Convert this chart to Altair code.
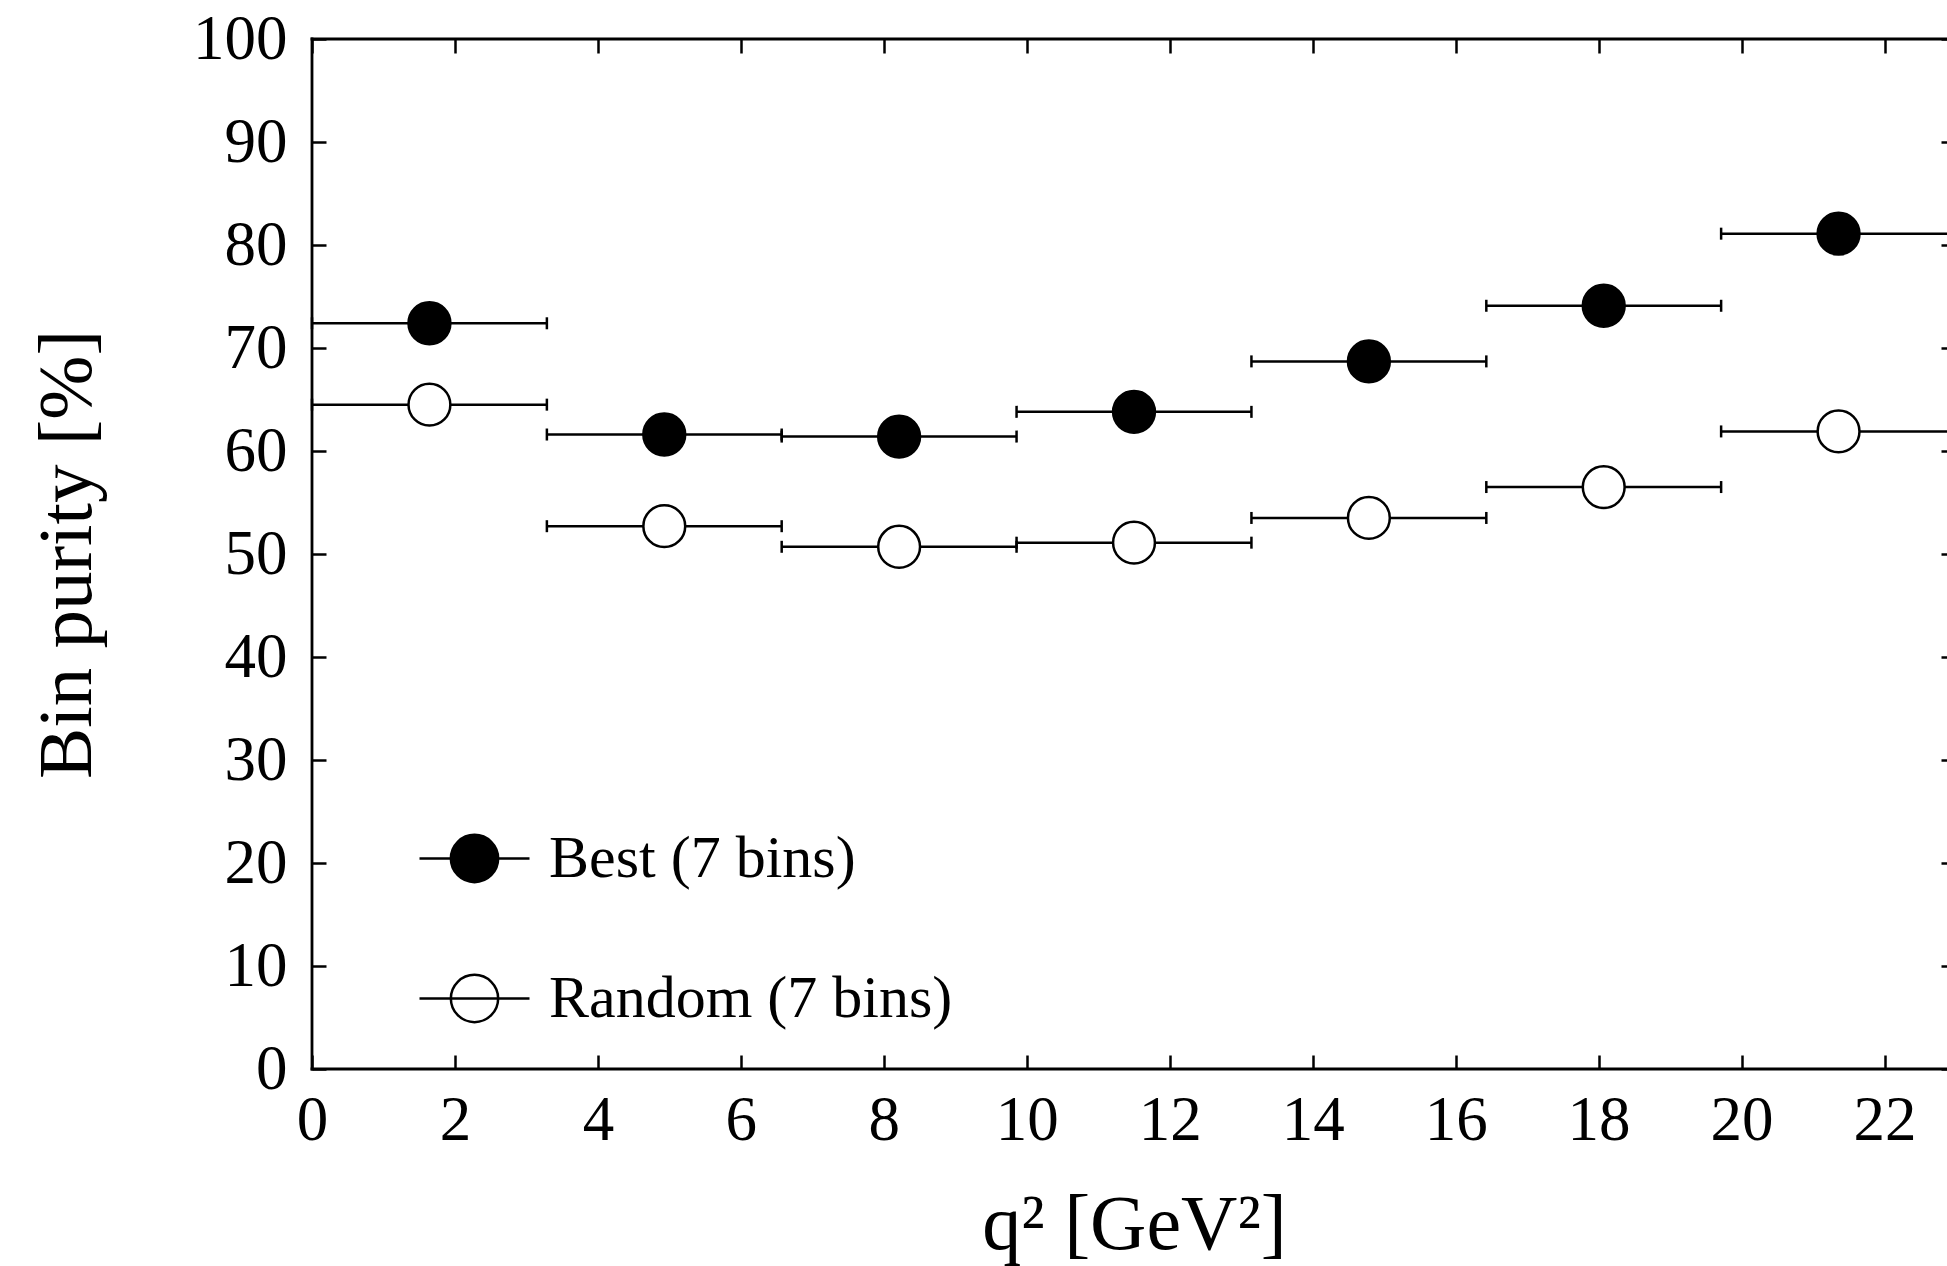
import altair as alt
import pandas as pd

# ---- data ----
bin_lo = [0.0, 3.286, 6.571, 9.857, 13.143, 16.429, 19.714]
bin_hi = [3.286, 6.571, 9.857, 13.143, 16.429, 19.714, 23.0]
best = [72.4, 61.6, 61.4, 63.8, 68.7, 74.1, 81.1]
random_bins = [64.5, 52.7, 50.7, 51.1, 53.5, 56.5, 61.9]
series_names = ["Best (7 bins)", "Random (7 bins)"]
series_fill = ["black", "white"]
x_ticks = [0, 2, 4, 6, 8, 10, 12, 14, 16, 18, 20, 22]
y_ticks = [0, 10, 20, 30, 40, 50, 60, 70, 80, 90, 100]
x_title = "q² [GeV²]"
y_title = "Bin purity [%]"

rows = []
for name, vals in zip(series_names, [best, random_bins]):
    for lo, hi, v in zip(bin_lo, bin_hi, vals):
        rows.append({"series": name, "lo": lo, "hi": hi, "mid": (lo + hi) / 2, "purity": v})
df = pd.DataFrame(rows)

FONT = "Liberation Serif"
W, H = 1635, 1030
XR = 1644  # pixel position of x = 23 (beyond the visible edge)

xs = alt.Scale(domain=[0, 23], range=[0, XR], nice=False, zero=False)
ys = alt.Scale(domain=[0, 100], nice=False, zero=False)

bottom_axis = alt.Axis(
    orient="bottom", values=x_ticks, title=x_title, domain=False, grid=False,
    tickSize=14, tickWidth=2.5, tickColor="black", offset=-14,
    labelFont=FONT, labelFontSize=63, labelColor="black", labelPadding=20,
    labelFlush=False, labelOverlap=False,
    titleFont=FONT, titleFontSize=78, titleFontWeight="normal", titleColor="black",
    titlePadding=34,
)
left_axis = alt.Axis(
    orient="left", values=y_ticks, title=y_title, domain=False, grid=False,
    tickSize=14, tickWidth=2.5, tickColor="black", offset=-14,
    labelFont=FONT, labelFontSize=63, labelColor="black", labelPadding=25,
    labelFlush=False, labelOverlap=False,
    titleFont=FONT, titleFontSize=77, titleFontWeight="normal", titleColor="black",
    titlePadding=86,
)
top_axis = alt.Axis(
    orient="top", values=x_ticks, title=None, domain=False, grid=False, labels=False,
    tickSize=14, tickWidth=2.5, tickColor="black", offset=-14,
)
right_axis = alt.Axis(
    orient="right", values=y_ticks, title=None, domain=False, grid=False, labels=False,
    tickSize=6, tickWidth=2.5, tickColor="black", offset=-6,
)

base = alt.Chart(df)

rules = base.mark_rule(color="black", strokeWidth=2.5).encode(
    x=alt.X("lo:Q", scale=xs, axis=top_axis),
    x2="hi:Q",
    y=alt.Y("purity:Q", scale=ys, axis=right_axis),
)

caps = base.transform_fold(["lo", "hi"], as_=["side", "xpos"]).mark_tick(
    orient="vertical", size=12, thickness=2.5, color="black", opacity=1
).encode(
    x=alt.X("xpos:Q", scale=xs, axis=None),
    y=alt.Y("purity:Q", scale=ys, axis=None),
)

legend_path = ("M-1,0L1,0M-0.43,0A0.43,0.43,0,1,0,0.43,0"
               "A0.43,0.43,0,1,0,-0.43,0Z")

points = base.mark_point(
    shape="circle", size=1750, stroke="black", strokeWidth=2.5, opacity=1, filled=False
).encode(
    x=alt.X("mid:Q", scale=xs, axis=bottom_axis),
    y=alt.Y("purity:Q", scale=ys, axis=left_axis),
    fill=alt.Fill(
        "series:N",
        scale=alt.Scale(domain=series_names, range=series_fill),
        legend=alt.Legend(
            title=None, orient="none", legendX=106, legendY=763, direction="vertical",
            symbolType=legend_path, symbolSize=12100, symbolStrokeColor="black",
            symbolStrokeWidth=2.5, symbolOpacity=1,
            labelFont=FONT, labelFontSize=60, labelColor="black", labelOffset=18,
            labelLimit=1000, rowPadding=53, padding=0,
        ),
    ),
)

spine_df = pd.DataFrame({"k": [0]})
spine_base = alt.Chart(spine_df)
spine_top = spine_base.mark_rule(color="black", strokeWidth=2.8, strokeCap="square").encode(
    x=alt.datum(0, scale=xs, axis=None), x2=alt.datum(23), y=alt.datum(100, scale=ys, axis=None)
)
spine_bottom = spine_base.mark_rule(color="black", strokeWidth=2.8, strokeCap="square").encode(
    x=alt.datum(0, scale=xs, axis=None), x2=alt.datum(23), y=alt.datum(0, scale=ys, axis=None)
)
spine_left = spine_base.mark_rule(color="black", strokeWidth=2.8, strokeCap="square").encode(
    x=alt.datum(0, scale=xs, axis=None), y=alt.datum(0, scale=ys, axis=None), y2=alt.datum(100)
)

chart = alt.layer(
    rules, caps, points, spine_top, spine_bottom, spine_left
).resolve_axis(
    x="independent", y="independent"
).properties(
    width=W, height=H,
    autosize=alt.AutoSizeParams(type="none"),
    padding={"left": 312, "top": 39, "right": 0, "bottom": 197},
).configure_view(stroke=None).configure(background="white")

chart.save("out.html", embed_options={"renderer": "svg", "actions": False})
